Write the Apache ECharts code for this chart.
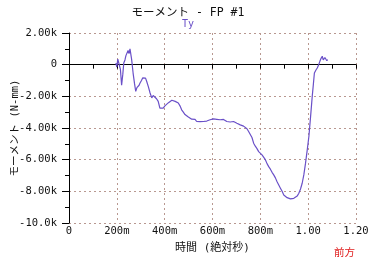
<!DOCTYPE html>
<html>
<head>
<meta charset="utf-8">
<script src="https://cdn.jsdelivr.net/npm/echarts@6/dist/echarts.min.js"></script>
<style>
html, body { margin: 0; padding: 0; background: #fff; }
#chart { width: 371px; height: 258px; }
</style>
</head>
<body>
<div id="chart"></div>
<script>
// 時間 (s) と モーメント Ty (N-mm)
var timeData = [0.196, 0.200, 0.204, 0.207, 0.210, 0.215, 0.220, 0.225, 0.229, 0.234, 0.238, 0.243,
    0.247, 0.251, 0.255, 0.262, 0.268, 0.274, 0.279, 0.284, 0.289, 0.293, 0.297, 0.303, 0.308,
    0.315, 0.320, 0.325, 0.332, 0.339, 0.346, 0.352, 0.359, 0.366, 0.373, 0.380, 0.387, 0.394,
    0.401, 0.409, 0.416, 0.423, 0.430, 0.437, 0.444, 0.450, 0.457, 0.464, 0.471, 0.478, 0.485,
    0.492, 0.499, 0.506, 0.513, 0.520, 0.527, 0.534, 0.541, 0.548, 0.555, 0.562, 0.569, 0.576,
    0.583, 0.590, 0.597, 0.604, 0.611, 0.618, 0.625, 0.632, 0.639, 0.646, 0.653, 0.660, 0.667,
    0.674, 0.681, 0.688, 0.695, 0.702, 0.709, 0.716, 0.723, 0.730, 0.737, 0.744, 0.751, 0.758,
    0.765, 0.772, 0.779, 0.786, 0.793, 0.800, 0.807, 0.814, 0.821, 0.828, 0.835, 0.842, 0.849,
    0.856, 0.863, 0.870, 0.877, 0.884, 0.891, 0.898, 0.905, 0.912, 0.919, 0.926, 0.933, 0.940,
    0.947, 0.954, 0.961, 0.968, 0.975, 0.982, 0.989, 0.996, 1.003, 1.010, 1.017, 1.022, 1.026,
    1.032, 1.038, 1.044, 1.049, 1.054, 1.059, 1.063, 1.066, 1.070, 1.073, 1.078, 1.082];
var tyData = [100, -150, 350, 250, 420, -300, -1300, -600, 100, 300, 570, 450,
    900, 700, 1000, 320, -530, -1200, -1690, -1450, -1550, -1300, -1160, -1000, -840,
    -740, -850, -1060, -1400, -1790, -2100, -1950, -2000, -2150, -2320, -2740, -2650, -2740,
    -2600, -2530, -2400, -2320, -2250, -2350, -2320, -2380, -2420, -2600, -2850, -3000, -3150,
    -3270, -3300, -3400, -3440, -3500, -3450, -3590, -3520, -3600, -3550, -3590, -3500, -3560,
    -3450, -3480, -3380, -3420, -3370, -3450, -3400, -3480, -3520, -3460, -3550, -3590, -3540,
    -3620, -3560, -3590, -3650, -3700, -3750, -3800, -3820, -3880, -3910, -4050, -4220, -4320,
    -4600, -4960, -5150, -5300, -5490, -5600, -5700, -5800, -6000, -6250, -6440, -6600, -6800,
    -6960, -7150, -7400, -7600, -7800, -8000, -8230, -8350, -8400, -8440, -8480, -8420, -8440,
    -8400, -8300, -8120, -7850, -7490, -6950, -6220, -5400, -4540, -3300, -2000, -1200, -530,
    -350, -210, 0, 210, 400, 530, 300, 210, 450, 420, 250, 320];
var xTickLabels = ['0', '200m', '400m', '600m', '800m', '1.00', '1.20'];
var yTickLabels = {'2000': '2.00k', '0': '0', '-2000': '-2.00k', '-4000': '-4.00k',
    '-6000': '-6.00k', '-8000': '-8.00k', '-10000': '-10.0k'};

var chart = echarts.init(document.getElementById('chart'));

var seriesData = [];
for (var i = 0; i < timeData.length; i++) {
    seriesData.push([timeData[i], tyData[i]]);
}

var monoCjk = '"DejaVu Sans Mono", "Noto Sans CJK JP"';

var option = {
    backgroundColor: '#fff',
    animation: false,
    title: {
        text: 'モーメント - FP #1',
        subtext: 'Ty',
        left: 183,
        textAlign: 'center',
        top: 2,
        itemGap: 1,
        textStyle: {
            color: '#111',
            fontSize: 11.5,
            fontWeight: 'normal',
            fontFamily: monoCjk
        },
        subtextStyle: {
            color: '#6a50c8',
            fontSize: 10,
            fontFamily: 'DejaVu Sans Mono'
        }
    },
    grid: {
        left: 69,
        right: 15,
        top: 33,
        bottom: 35,
        containLabel: false,
        outerBoundsMode: 'none'
    },
    xAxis: {
        type: 'value',
        min: 0,
        max: 1.2,
        interval: 0.2,
        name: '時間 (絶対秒)',
        nameLocation: 'middle',
        nameGap: 20,
        nameMoveOverlap: false,
        nameTextStyle: {
            color: '#111',
            fontSize: 11,
            fontFamily: monoCjk
        },
        axisLine: { lineStyle: { color: '#000', width: 1 } },
        axisTick: { show: true, length: 4, lineStyle: { color: '#000' } },
        minorTick: { show: true, splitNumber: 2, length: 4, lineStyle: { color: '#000' } },
        axisLabel: {
            margin: 3,
            color: '#111',
            fontSize: 10.5,
            fontFamily: 'DejaVu Sans Mono',
            formatter: function (v) {
                return xTickLabels[Math.round(v / 0.2)];
            }
        },
        splitLine: {
            show: true,
            lineStyle: { color: '#b89890', type: [2, 3], width: 1 }
        }
    },
    yAxis: {
        type: 'value',
        min: -10000,
        max: 2000,
        interval: 2000,
        name: 'モーメント (N-mm)',
        nameLocation: 'middle',
        nameGap: 48,
        nameMoveOverlap: false,
        nameTextStyle: {
            color: '#111',
            fontSize: 10.5,
            lineHeight: 12,
            fontFamily: monoCjk
        },
        axisLine: { show: true, lineStyle: { color: '#000', width: 1 } },
        axisTick: { show: true, length: 7, lineStyle: { color: '#000' } },
        minorTick: { show: true, splitNumber: 2, length: 4, lineStyle: { color: '#000' } },
        axisLabel: {
            margin: 12,
            color: '#111',
            fontSize: 10.5,
            fontFamily: 'DejaVu Sans Mono',
            formatter: function (v) {
                return yTickLabels[String(v)];
            }
        },
        splitLine: {
            show: true,
            lineStyle: { color: '#b89890', type: [2, 3], width: 1 }
        }
    },
    graphic: [
        {
            type: 'text',
            left: 334,
            top: 247,
            style: {
                text: '前方',
                fill: '#e02020',
                fontSize: 10.5,
                fontFamily: 'Noto Sans CJK JP'
            }
        },
        {
            // 右端の点線
            type: 'line',
            shape: { x1: 356.5, y1: 33, x2: 356.5, y2: 223 },
            style: { stroke: '#b89890', lineDash: [2, 3], lineWidth: 1 }
        }
    ],
    series: [{
        name: 'Ty',
        type: 'line',
        data: seriesData,
        showSymbol: false,
        symbol: 'none',
        lineStyle: { color: '#6a50c8', width: 1.2 }
    }]
};

chart.setOption(option);
</script>
</body>
</html>
